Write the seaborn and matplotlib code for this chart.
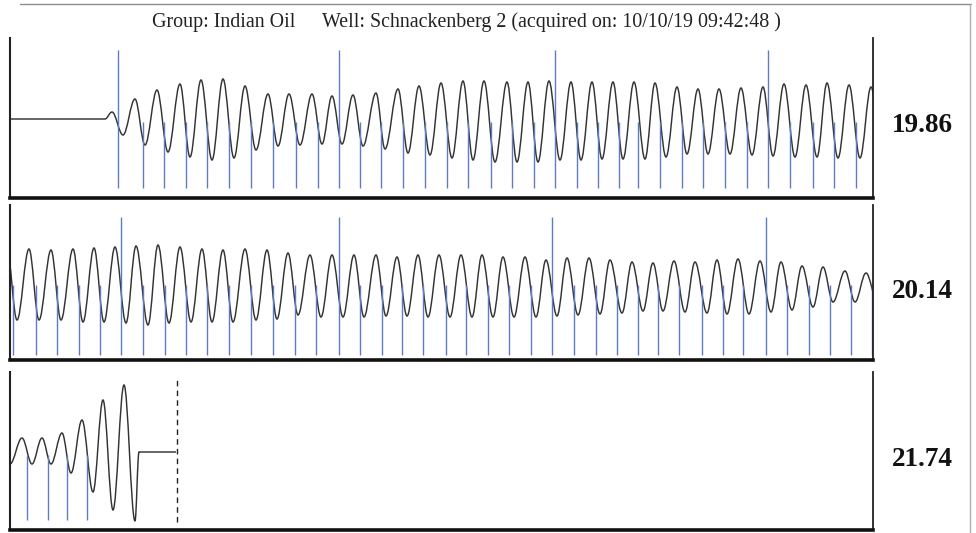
import numpy as np
import matplotlib
matplotlib.use("Agg")
import matplotlib.pyplot as plt
from matplotlib.path import Path
from matplotlib.patches import PathPatch
from matplotlib.lines import Line2D
import seaborn as sns

# trace extrema (x = sample position, y = amplitude)
p1_x = [10, 105, 112, 123, 135, 145, 157, 168, 180, 190, 201, 212, 223, 234, 245, 256,
        268, 278, 289, 300, 312, 322, 332, 342, 353, 363, 376, 385, 398, 408, 419, 430,
        441, 452, 463, 473, 484, 495, 507, 517, 528, 538, 549, 560, 571, 581, 592, 602,
        613, 623, 634, 645, 655, 666, 677, 687, 698, 708, 719, 730, 741, 752, 763, 773,
        784, 795, 806, 817, 827, 838, 849, 860, 871, 882]
p1_y = [79, 79, 86, 63, 99, 53, 108, 46, 114, 41, 118, 38, 119, 40, 112, 48,
        104, 52, 104, 53, 104, 54, 102, 54, 103, 52, 105, 49, 109, 45, 112, 43,
        115, 40, 117, 38, 117, 36, 116, 36, 116, 36, 117, 38, 116, 38, 116, 39,
        116, 39, 116, 39, 115, 41, 111, 44, 109, 44, 109, 44, 110, 43, 111, 42,
        114, 41, 113, 41, 115, 40, 113, 40, 111, 40]

p2_x = [7, 17, 29, 39, 51, 61, 73, 83, 94, 104, 115, 126, 136, 148, 158, 169, 180, 191,
        202, 212, 223, 233, 245, 256, 267, 277, 288, 298, 310, 321, 332, 343, 354, 364,
        376, 386, 397, 407, 418, 428, 439, 450, 461, 472, 482, 493, 503, 514, 525, 536,
        546, 557, 567, 578, 589, 600, 610, 622, 632, 643, 653, 663, 674, 685, 695, 707,
        717, 727, 738, 749, 760, 771, 781, 792, 802, 813, 823, 833, 845, 855, 866, 877]
p2_y = [110, 40, 111, 40, 110, 40, 111, 38, 112, 38, 113, 37, 114, 35, 115, 37, 113, 38,
        111, 38, 110, 38, 111, 40, 110, 41, 107, 45, 105, 43, 105, 43, 105, 43,
        105, 44, 103, 44, 105, 43, 105, 43, 105, 43, 105, 43, 103, 43, 103, 43,
        100, 44, 102, 45, 102, 46, 100, 47, 98, 49, 97, 49, 99, 48, 98, 47,
        100, 46, 101, 46, 99, 48, 98, 50, 94, 53, 93, 58, 89, 58, 87, 60]

p3_x = [10, 22, 32, 42, 51, 62, 71, 82, 93, 103, 113, 124, 135, 139, 176]
p3_y = [66, 92, 66, 92, 66, 97, 57, 110, 38, 130, 20, 145, 9, 78, 78]

# blue markers
p1_short = [143, 164, 186, 207, 229, 251, 273, 296, 318, 360, 381, 403, 425, 447, 468,
            491, 512, 534, 577, 598, 619, 638, 660, 682, 703, 725, 747, 790, 813, 834, 856]
p1_tall = [118, 339, 555, 768]
p2_short = [13, 36, 57, 79, 100, 143, 165, 186, 207, 229, 251, 273, 295, 316, 360, 382,
            402, 423, 446, 466, 488, 509, 531, 574, 596, 617, 638, 658, 679, 702, 723,
            743, 787, 809, 830, 851, 872]
p2_tall = [121, 339, 552, 766]
p3_short = [27, 48, 67, 87]
p3_end = 177

labels = ["19.86", "20.14", "21.74"]

sns.set_theme(style="white")
plt.rcParams['font.family'] = ['Liberation Serif', 'DejaVu Serif']

W, H = 976, 533
fig = plt.figure(figsize=(W / 100, H / 100), dpi=100)
fig.patch.set_facecolor("white")

BLUE = "#5f7cc2"
TRACE = "#333333"


def smooth_path(xs, ys, k=0.364):
    verts = [(xs[0], ys[0])]
    codes = [Path.MOVETO]
    for i in range(1, len(xs)):
        dx = xs[i] - xs[i - 1]
        verts += [(xs[i - 1] + k * dx, ys[i - 1]), (xs[i] - k * dx, ys[i]), (xs[i], ys[i])]
        codes += [Path.CURVE4] * 3
    return Path(verts, codes)


def panel(top, bottom):
    ax = fig.add_axes([10 / W, 1 - bottom / H, 863 / W, (bottom - top) / H])
    ax.set_xlim(10, 873)
    ax.set_ylim(0, bottom - top)
    ax.set_xticks([])
    ax.set_yticks([])
    ax.spines['top'].set_visible(False)
    ax.spines['left'].set_linewidth(1.5)
    ax.spines['left'].set_color("#222222")
    ax.spines['right'].set_linewidth(1.3)
    ax.spines['right'].set_color("#222222")
    ax.spines['bottom'].set_linewidth(2.6)
    ax.spines['bottom'].set_color("#111111")
    ax.set_facecolor("white")
    return ax


ax1 = panel(38, 198)
ax1.vlines(p1_short, 10, 76, color=BLUE, lw=1)
ax1.vlines(p1_tall, 10, 148, color=BLUE, lw=1)
ax1.add_patch(PathPatch(smooth_path(p1_x, p1_y), fill=False, edgecolor=TRACE, lw=1.05))

ax2 = panel(205, 360)
ax2.vlines(p2_short, 5, 75, color=BLUE, lw=1)
ax2.vlines(p2_tall, 5, 143, color=BLUE, lw=1)
ax2.add_patch(PathPatch(smooth_path(p2_x, p2_y), fill=False, edgecolor=TRACE, lw=1.05))

ax3 = panel(372, 530)
ax3.vlines(p3_short, 10, 75, color=BLUE, lw=1)
ax3.vlines(p3_end, 8, 150, color="#222222", lw=1, linestyles=(0, (4, 3)))
ax3.add_patch(PathPatch(smooth_path(p3_x, p3_y), fill=False, edgecolor=TRACE, lw=1.05))

# value labels to the right
for lab, yc in zip(labels, [126, 292, 460]):
    fig.text(922 / W, 1 - yc / H, lab, ha="center", va="center",
             fontsize=19.5, fontweight="bold", color="#111111")

# header
fig.text(152 / W, 1 - 22 / H, "Group: Indian Oil", ha="left", va="center",
         fontsize=14.4, color="#222222")
fig.text(322 / W, 1 - 22 / H, "Well: Schnackenberg 2 (acquired on: 10/10/19 09:42:48 )",
         ha="left", va="center", fontsize=14.4, color="#222222")

# scanned page frame
fig.add_artist(Line2D([20 / W, 971 / W], [1 - 4 / H, 1 - 4 / H], color="#8c8c8c", lw=1))
fig.add_artist(Line2D([970 / W, 970 / W], [1 - 4 / H, 0], color="#b0b0b0", lw=1))

fig.savefig("out.png", dpi=100)
